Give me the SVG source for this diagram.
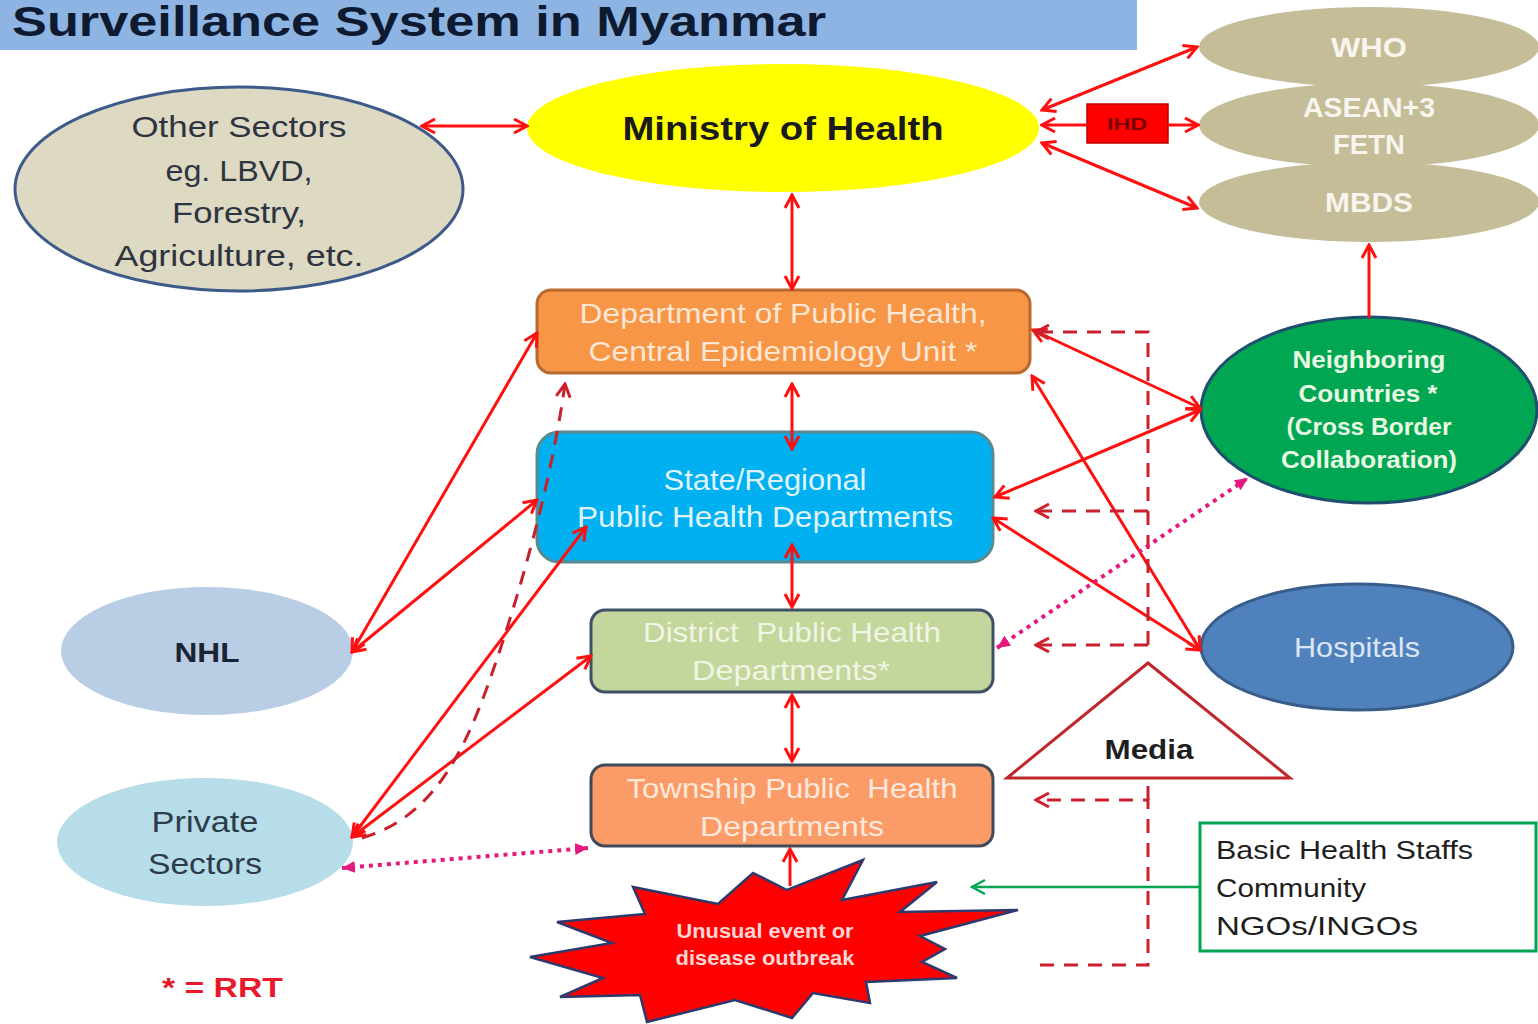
<svg xmlns="http://www.w3.org/2000/svg" width="1538" height="1024" viewBox="0 0 1538 1024">
  <style>
    text { font-family: "Liberation Sans", Arial, sans-serif; text-anchor: middle; }
    .ttl { font-size: 42px; fill: #0d1a30; text-anchor: start; font-weight: bold; }
    .dark { fill: #2e3440; }
    .b { font-weight: bold; }
    .link { fill: none; stroke: #ff1010; stroke-width: 3; marker-start: url(#ah); marker-end: url(#ah); }
    .one { fill: none; stroke: #ff1010; stroke-width: 3; marker-end: url(#ah); }
    .dash { fill: none; stroke: #c8202c; stroke-width: 3; stroke-dasharray: 14 10; }
    .dot { fill: none; stroke: #e6197f; stroke-width: 4; stroke-dasharray: 4 5; marker-start: url(#tri); marker-end: url(#tri); }
  </style>
  <defs>
    <marker id="ah" viewBox="0 0 18 18" refX="16" refY="9" markerWidth="18" markerHeight="18" markerUnits="userSpaceOnUse" orient="auto-start-reverse">
      <path d="M3,2 L16,9 L3,16" fill="none" stroke="#ff1010" stroke-width="3" stroke-dasharray="none"/>
    </marker>
    <marker id="ahd" viewBox="0 0 18 18" refX="16" refY="9" markerWidth="18" markerHeight="18" markerUnits="userSpaceOnUse" orient="auto-start-reverse">
      <path d="M3,2 L16,9 L3,16" fill="none" stroke="#d0202c" stroke-width="3" stroke-dasharray="none"/>
    </marker>
    <marker id="tri" viewBox="0 0 14 14" refX="13" refY="7" markerWidth="14" markerHeight="14" markerUnits="userSpaceOnUse" orient="auto-start-reverse">
      <path d="M0,1 L13,7 L0,13 Z" fill="#e6197f"/>
    </marker>
    <marker id="ahg" viewBox="0 0 18 18" refX="16" refY="9" markerWidth="18" markerHeight="18" markerUnits="userSpaceOnUse" orient="auto">
      <path d="M3,2 L16,9 L3,16" fill="none" stroke="#00a651" stroke-width="2.5"/>
    </marker>
  </defs>

  <rect width="1538" height="1024" fill="#ffffff"/>

  <!-- title banner -->
  <g id="title">
    <rect x="0" y="0" width="1137" height="50" fill="#8eb4e3"/>
    <text class="ttl" x="12" y="36" textLength="814" lengthAdjust="spacingAndGlyphs">Surveillance System in Myanmar</text>
  </g>

  <!-- nodes -->
  <g id="other-sectors">
    <ellipse cx="239" cy="189" rx="224" ry="102" fill="#ddd9c3" stroke="#3d5a8a" stroke-width="3"/>
    <text class="dark" font-size="30" x="239" y="137" textLength="215" lengthAdjust="spacingAndGlyphs">Other Sectors</text>
    <text class="dark" font-size="30" x="239" y="181" textLength="147" lengthAdjust="spacingAndGlyphs">eg. LBVD,</text>
    <text class="dark" font-size="30" x="239" y="223" textLength="134" lengthAdjust="spacingAndGlyphs">Forestry,</text>
    <text class="dark" font-size="30" x="239" y="266" textLength="249" lengthAdjust="spacingAndGlyphs">Agriculture, etc.</text>
  </g>

  <g id="ministry">
    <ellipse cx="783" cy="128" rx="256" ry="64" fill="#ffff00"/>
    <text class="b" fill="#1a1a1a" font-size="34" x="783" y="140" textLength="321" lengthAdjust="spacingAndGlyphs">Ministry of Health</text>
  </g>

  <g id="who">
    <ellipse cx="1369" cy="47" rx="170" ry="40" fill="#c4bd97"/>
    <text class="b" fill="#f7f5ee" font-size="27" x="1369" y="57" textLength="76" lengthAdjust="spacingAndGlyphs">WHO</text>
  </g>
  <g id="asean">
    <ellipse cx="1369" cy="125" rx="170" ry="42" fill="#c4bd97"/>
    <text class="b" fill="#f7f5ee" font-size="27" x="1369" y="117" textLength="132" lengthAdjust="spacingAndGlyphs">ASEAN+3</text>
    <text class="b" fill="#f7f5ee" font-size="27" x="1369" y="154" textLength="72" lengthAdjust="spacingAndGlyphs">FETN</text>
  </g>
  <g id="mbds">
    <ellipse cx="1369" cy="202" rx="170" ry="40" fill="#c4bd97"/>
    <text class="b" fill="#f7f5ee" font-size="27" x="1369" y="212" textLength="88" lengthAdjust="spacingAndGlyphs">MBDS</text>
  </g>

  <g id="ihd">
    <rect x="1087" y="104" width="81" height="39" fill="#ff0000" stroke="#c00000" stroke-width="1.5"/>
    <text class="b" fill="#7a0000" font-size="17" x="1127" y="130" textLength="40" lengthAdjust="spacingAndGlyphs">IHD</text>
  </g>

  <g id="dept-public-health">
    <rect x="537" y="290" width="493" height="83" rx="14" fill="#f79646" stroke="#b7692e" stroke-width="3"/>
    <text fill="#fde6d4" font-size="28" x="783" y="323" textLength="407" lengthAdjust="spacingAndGlyphs">Department of Public Health,</text>
    <text fill="#fde6d4" font-size="28" x="783" y="361" textLength="389" lengthAdjust="spacingAndGlyphs">Central Epidemiology Unit *</text>
  </g>

  <g id="state-regional">
    <rect x="537" y="432" width="456" height="130" rx="22" fill="#00b0f0" stroke="#5a8a90" stroke-width="3"/>
    <text fill="#dff3fb" font-size="29" x="765" y="490" textLength="203" lengthAdjust="spacingAndGlyphs">State/Regional</text>
    <text fill="#dff3fb" font-size="29" x="765" y="527" textLength="376" lengthAdjust="spacingAndGlyphs">Public Health Departments</text>
  </g>

  <g id="district">
    <rect x="591" y="610" width="402" height="82" rx="14" fill="#c3d69b" stroke="#3f5066" stroke-width="3"/>
    <text xml:space="preserve" fill="#f0f5e4" font-size="28" x="792" y="642" textLength="298" lengthAdjust="spacingAndGlyphs">District  Public Health</text>
    <text fill="#f0f5e4" font-size="28" x="791" y="680" textLength="198" lengthAdjust="spacingAndGlyphs">Departments*</text>
  </g>

  <g id="township">
    <rect x="591" y="765" width="402" height="81" rx="14" fill="#fa9b68" stroke="#3f4a58" stroke-width="3"/>
    <text xml:space="preserve" fill="#fde9dc" font-size="28" x="792" y="798" textLength="331" lengthAdjust="spacingAndGlyphs">Township Public  Health</text>
    <text fill="#fde9dc" font-size="28" x="792" y="836" textLength="184" lengthAdjust="spacingAndGlyphs">Departments</text>
  </g>

  <g id="outbreak">
    <polygon points="530,957 612,943 557,922 645,914 633,887 718,904 753,873 787,890 863,860 842,900 937,882 900,912 1018,910 920,936 945,949 922,962 957,978 866,982 870,1003 813,993 792,1018 735,1000 647,1022 640,995 560,997 603,978" fill="#ff0000" stroke="#2e3a6e" stroke-width="2.5" stroke-linejoin="miter"/>
    <text class="b" fill="#ffd6d6" font-size="20" x="765" y="938" textLength="177" lengthAdjust="spacingAndGlyphs">Unusual event or</text>
    <text class="b" fill="#ffd6d6" font-size="20" x="765" y="965" textLength="179" lengthAdjust="spacingAndGlyphs">disease outbreak</text>
  </g>

  <g id="nhl">
    <ellipse cx="207" cy="651" rx="146" ry="64" fill="#b9cde5"/>
    <text class="b" fill="#1b2433" font-size="28" x="207" y="662" textLength="65" lengthAdjust="spacingAndGlyphs">NHL</text>
  </g>

  <g id="private-sectors">
    <ellipse cx="205" cy="842" rx="148" ry="64" fill="#b7dde8"/>
    <text fill="#2c3b48" font-size="30" x="205" y="832" textLength="107" lengthAdjust="spacingAndGlyphs">Private</text>
    <text fill="#2c3b48" font-size="30" x="205" y="874" textLength="114" lengthAdjust="spacingAndGlyphs">Sectors</text>
  </g>

  <g id="neighboring">
    <ellipse cx="1369" cy="410" rx="168" ry="93" fill="#00a651" stroke="#1f4e6e" stroke-width="3"/>
    <text class="b" fill="#e8f9e4" font-size="24" x="1369" y="368" textLength="153" lengthAdjust="spacingAndGlyphs">Neighboring</text>
    <text class="b" fill="#e8f9e4" font-size="24" x="1368" y="402" textLength="139" lengthAdjust="spacingAndGlyphs">Countries *</text>
    <text class="b" fill="#e8f9e4" font-size="24" x="1369" y="435" textLength="165" lengthAdjust="spacingAndGlyphs">(Cross Border</text>
    <text class="b" fill="#e8f9e4" font-size="24" x="1369" y="468" textLength="176" lengthAdjust="spacingAndGlyphs">Collaboration)</text>
  </g>

  <g id="hospitals">
    <ellipse cx="1357" cy="647" rx="156" ry="63" fill="#4f81bd" stroke="#385d8a" stroke-width="3"/>
    <text fill="#dce6f2" font-size="28" x="1357" y="657" textLength="126" lengthAdjust="spacingAndGlyphs">Hospitals</text>
  </g>

  <g id="basic-health">
    <rect x="1200" y="823" width="336" height="128" fill="#ffffff" stroke="#00a651" stroke-width="3"/>
    <text fill="#1e1e1e" font-size="26" x="1216" y="859" style="text-anchor:start" textLength="257" lengthAdjust="spacingAndGlyphs">Basic Health Staffs</text>
    <text fill="#1e1e1e" font-size="26" x="1216" y="897" style="text-anchor:start" textLength="150" lengthAdjust="spacingAndGlyphs">Community</text>
    <text fill="#1e1e1e" font-size="26" x="1216" y="935" style="text-anchor:start" textLength="202" lengthAdjust="spacingAndGlyphs">NGOs/INGOs</text>
  </g>

  <g id="legend">
    <text class="b" fill="#e8192c" font-size="27" x="162" y="997" style="text-anchor:start" textLength="121" lengthAdjust="spacingAndGlyphs">* = RRT</text>
  </g>

  <!-- connectors -->
  <g id="connectors">
    <!-- ministry links -->
    <path class="link" d="M422,126 H527"/>
    <path class="link" d="M1042,110 L1197,47"/>
    <path class="one" d="M1087,125 H1042"/>
    <path class="one" d="M1168,125 H1198"/>
    <path class="link" d="M1042,143 L1197,208"/>
    <path class="link" d="M792,195 V289"/>
    <path class="one" d="M1369,318 V245"/>

    <!-- vertical chain -->
    <path class="link" d="M792,384 V449"/>
    <path class="link" d="M792,545 V607"/>
    <path class="link" d="M792,695 V761"/>
    <path class="one" d="M790,886 V849"/>

    <!-- right side -->
    <path class="link" d="M1033,330 L1200,408"/>
    <path class="link" d="M995,497 L1200,410"/>
    <path class="link" d="M1032,376 L1200,650"/>
    <path class="link" d="M993,518 L1200,650"/>

    <!-- left side -->
    <path class="link" d="M352,652 L537,333"/>
    <path class="link" d="M352,652 L537,500"/>
    <path class="link" d="M352,837 L586,527"/>
    <path class="link" d="M352,837 L591,656"/>
    <path class="dash" d="M362,838 C440,815 470,740 500,650 C528,565 553,470 565,384" marker-end="url(#ahd)"/>

    <!-- dashed feedback bus -->
    <path class="dash" d="M1148,645 V332 H1036" marker-end="url(#ahd)"/>
    <path class="dash" d="M1148,511 H1036" marker-end="url(#ahd)"/>
    <path class="dash" d="M1148,645 H1036" marker-end="url(#ahd)"/>
    <path class="dash" d="M1040,965 H1148 V800 H1036" marker-end="url(#ahd)"/>
    <path class="dash" d="M1148,800 V780"/>

    <!-- dotted links -->
    <path class="dot" d="M342,868 L588,848"/>
    <path class="dot" d="M997,648 L1248,478"/>

    <!-- community reporting -->
    <path d="M1200,887 H972" fill="none" stroke="#00a651" stroke-width="2.5" marker-end="url(#ahg)"/>
  </g>

  <g id="media">
    <polygon points="1148,663 1007,778 1290,778" fill="#ffffff" stroke="#c0272d" stroke-width="3"/>
    <text class="b" fill="#1e1e1e" font-size="27" x="1149" y="759" textLength="89" lengthAdjust="spacingAndGlyphs">Media</text>
  </g>
</svg>
